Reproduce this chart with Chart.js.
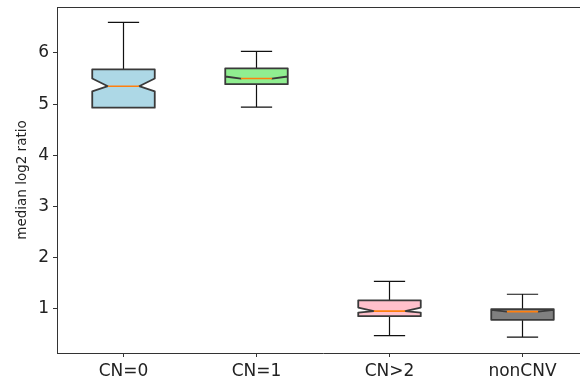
<!DOCTYPE html>
<html>
<head>
<meta charset="utf-8">
<script src="https://cdn.jsdelivr.net/npm/chart.js@4/dist/chart.umd.min.js"></script>
<style>
  html, body { margin: 0; padding: 0; background: #fff; overflow: hidden; }
  #wrap { width: 600px; height: 387px; }
</style>
</head>
<body>
<div id="wrap"><canvas id="boxChart" width="600" height="387"></canvas></div>
<script>
const categories = ['CN=0', 'CN=1', 'CN>2', 'nonCNV'];
const whiskerLow = [4.94, 4.94, 0.47, 0.44];
const q1 = [4.93, 5.39, 0.85, 0.78];
const notchLow = [5.25, 5.54, 0.92, 0.975];
const median = [5.35, 5.50, 0.95, 0.94];
const notchHigh = [5.50, 5.54, 1.02, 0.975];
const q3 = [5.68, 5.70, 1.16, 0.99];
const whiskerHigh = [6.60, 6.03, 1.53, 1.28];
const boxColors = ['#add8e6', '#90ee90', '#ffc0cb', '#808080'];
const yTicks = [1, 2, 3, 4, 5, 6];

const boxPlugin = {
  id: 'notchedBoxes',
  afterDatasetsDraw(chart) {
    const { ctx, scales: { x, y }, chartArea } = chart;
    const step = chartArea.width / categories.length;
    const half = step * 0.235;
    const notchHalf = half * 0.5;
    ctx.save();
    categories.forEach((c, i) => {
      const cx = x.getPixelForValue(i);
      // whiskers + caps
      ctx.strokeStyle = '#111';
      ctx.lineWidth = 1.2;
      ctx.beginPath();
      ctx.moveTo(cx, y.getPixelForValue(q3[i]));
      ctx.lineTo(cx, y.getPixelForValue(whiskerHigh[i]));
      ctx.moveTo(cx, y.getPixelForValue(q1[i]));
      ctx.lineTo(cx, y.getPixelForValue(whiskerLow[i]));
      ctx.moveTo(cx - notchHalf, y.getPixelForValue(whiskerHigh[i]));
      ctx.lineTo(cx + notchHalf, y.getPixelForValue(whiskerHigh[i]));
      ctx.moveTo(cx - notchHalf, y.getPixelForValue(whiskerLow[i]));
      ctx.lineTo(cx + notchHalf, y.getPixelForValue(whiskerLow[i]));
      ctx.stroke();

      // notched box
      const L = cx - half, R = cx + half;
      ctx.beginPath();
      ctx.moveTo(L, y.getPixelForValue(q1[i]));
      ctx.lineTo(L, y.getPixelForValue(notchLow[i]));
      ctx.lineTo(cx - notchHalf, y.getPixelForValue(median[i]));
      ctx.lineTo(L, y.getPixelForValue(notchHigh[i]));
      ctx.lineTo(L, y.getPixelForValue(q3[i]));
      ctx.lineTo(R, y.getPixelForValue(q3[i]));
      ctx.lineTo(R, y.getPixelForValue(notchHigh[i]));
      ctx.lineTo(cx + notchHalf, y.getPixelForValue(median[i]));
      ctx.lineTo(R, y.getPixelForValue(notchLow[i]));
      ctx.lineTo(R, y.getPixelForValue(q1[i]));
      ctx.closePath();
      ctx.fillStyle = boxColors[i];
      ctx.fill();
      ctx.strokeStyle = '#3a3a3a';
      ctx.lineWidth = 1.8;
      ctx.lineJoin = 'round';
      ctx.stroke();

      // median
      ctx.strokeStyle = '#ff7f0e';
      ctx.lineWidth = 1.6;
      ctx.beginPath();
      ctx.moveTo(cx - notchHalf, y.getPixelForValue(median[i]));
      ctx.lineTo(cx + notchHalf, y.getPixelForValue(median[i]));
      ctx.stroke();
    });
    // top spine
    ctx.strokeStyle = '#333';
    ctx.lineWidth = 1;
    ctx.beginPath();
    ctx.moveTo(chartArea.left, Math.round(chartArea.top) + 0.5);
    ctx.lineTo(chartArea.right, Math.round(chartArea.top) + 0.5);
    ctx.stroke();
    ctx.restore();
  }
};

const ctx = document.getElementById('boxChart');
new Chart(ctx, {
  type: 'bar',
  data: {
    labels: categories,
    datasets: [{
      label: 'range',
      data: categories.map((c, i) => [whiskerLow[i], whiskerHigh[i]]),
      backgroundColor: 'rgba(0,0,0,0)',
      borderWidth: 0
    }]
  },
  options: {
    responsive: false,
    animation: false,
    layout: { padding: { top: 7, right: 11, left: 0, bottom: 0 } },
    plugins: {
      legend: { display: false },
      tooltip: { enabled: false }
    },
    scales: {
      x: {
        grid: { display: true, offset: false, drawOnChartArea: false, drawTicks: true, tickLength: 4, color: '#333' },
        border: { display: true, color: '#333', width: 1 },
        ticks: { color: '#222', padding: 4, font: { family: 'DejaVu Sans', size: 17 } },
        afterFit(scale) { scale.height = 34; scale.paddingLeft = 0; scale.paddingRight = 0; }
      },
      y: {
        min: 0.13,
        max: 6.9,
        afterBuildTicks(scale) { scale.ticks = yTicks.map(v => ({ value: v })); },
        grid: { display: true, drawOnChartArea: false, drawTicks: true, tickLength: 4, color: '#333' },
        border: { display: true, color: '#333', width: 1 },
        ticks: { color: '#222', padding: 4, font: { family: 'DejaVu Sans', size: 17 } },
        title: {
          display: true,
          text: 'median log2 ratio',
          color: '#222',
          font: { family: 'DejaVu Sans', size: 13.5 },
          padding: { top: 14, bottom: 0 }
        },
        afterFit(scale) { scale.width = 57; scale.paddingTop = 0; scale.paddingBottom = 0; }
      }
    }
  },
  plugins: [boxPlugin]
});
</script>
</body>
</html>
